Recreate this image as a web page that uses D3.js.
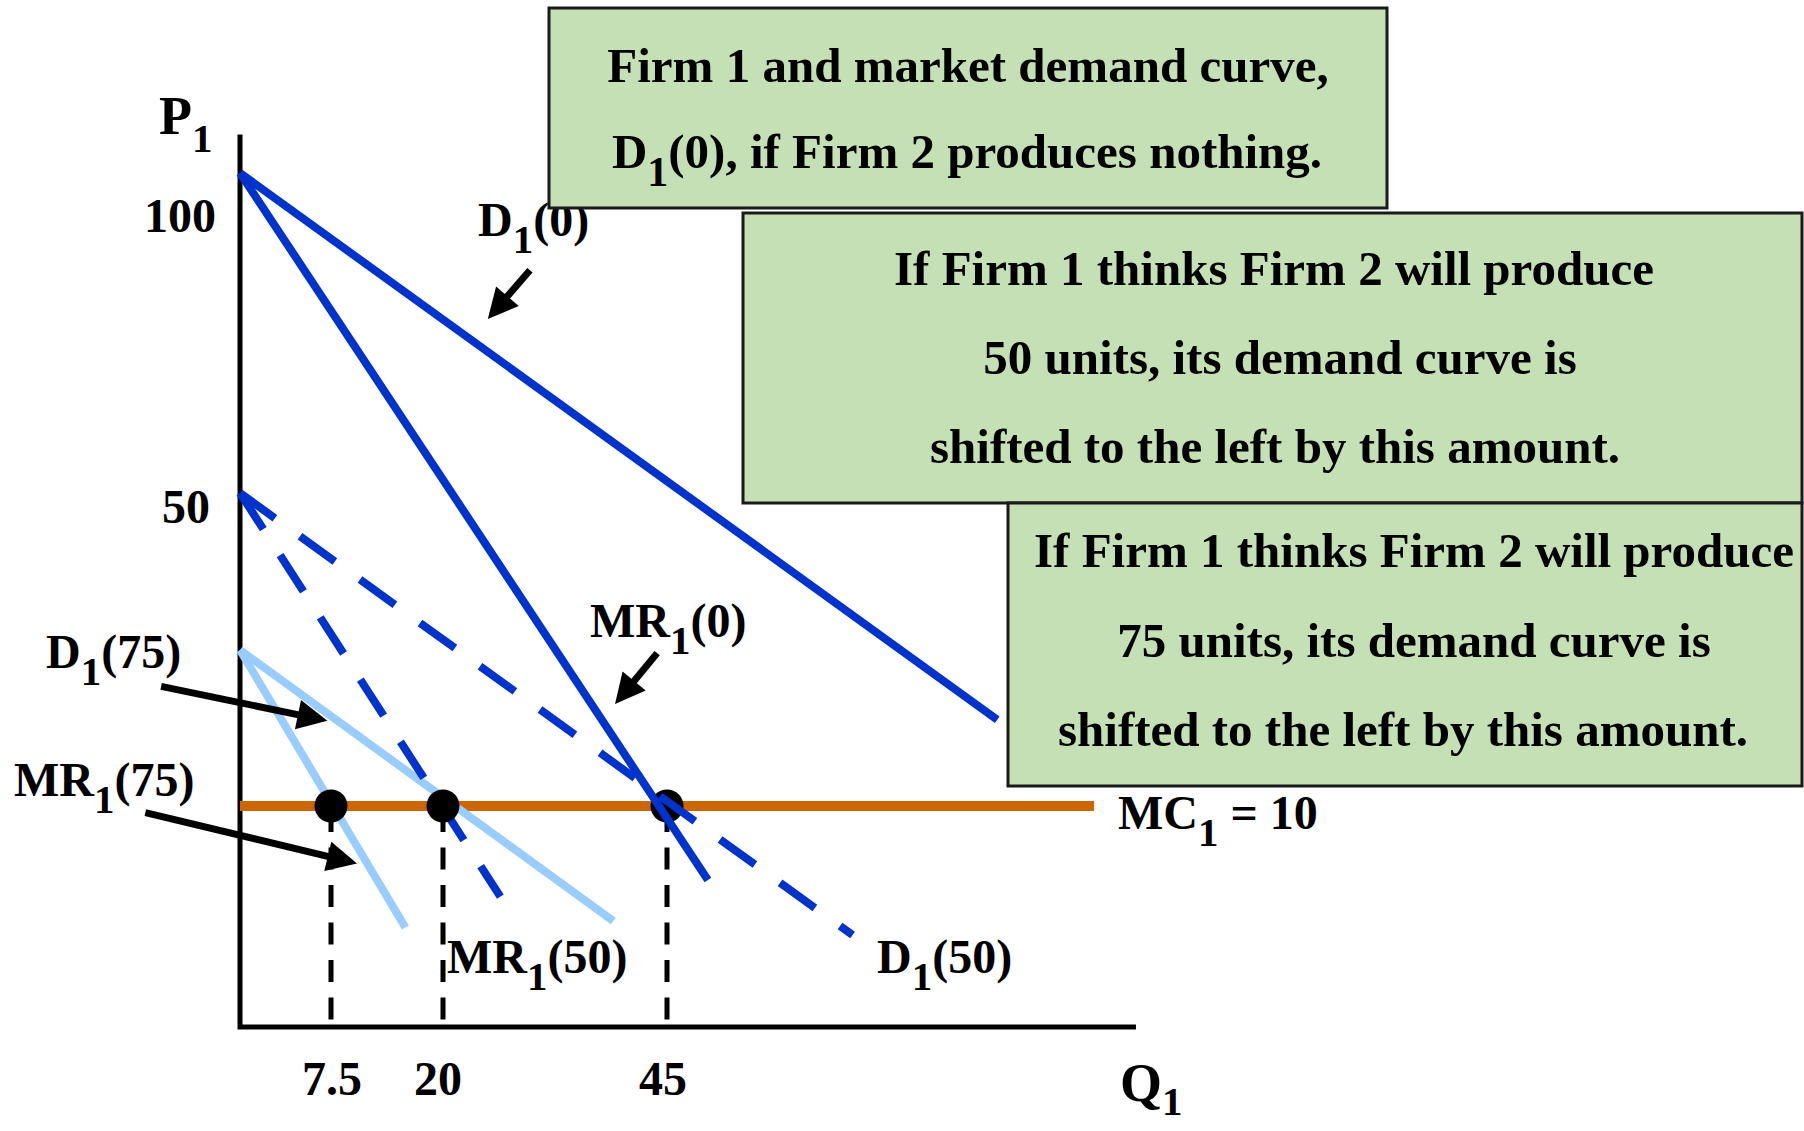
<!DOCTYPE html>
<html>
<head>
<meta charset="utf-8">
<script src="https://cdn.jsdelivr.net/npm/d3@7"></script>
<style>
  html, body { margin: 0; padding: 0; background: #ffffff; }
  svg { display: block; }
  text { font-family: "Liberation Serif", "Times New Roman", serif; font-weight: bold; fill: #000; white-space: pre; }
</style>
</head>
<body>
<svg id="chart" width="1804" height="1131"></svg>
<script>
// ---- Data -------------------------------------------------------------
// Schematic axes: anchor values along quantity and price
const qAnchors = [0, 7.5, 20, 45, 90];
const pAnchors = [0, 10, 25, 50, 100];

const priceTicks = [100, 50];
const quantityTicks = [7.5, 20, 45];
const quantityTickLabels = ["7.5", "20", "45"];

// Marginal cost and the profit-maximising quantities where MR = MC
const marginalCost = 10;
const mcQuantityRange = [0, 87.8];
const optimalQuantities = [7.5, 20, 45];

// Axis extents (quantity, price)
const axisMaxQ = 92;
const axisMaxP = 106;

// Demand and marginal revenue lines, [Q, P] end points
const demand0 = [[0, 100], [78.1, 18.3]];
const marginalRevenue0 = [[0, 100], [49.1, 6.65]];
const demand50 = [[0, 50], [63.6, 4.16]];
const marginalRevenue50 = [[0, 50], [26.4, 5.9]];
const demand75 = [[0, 25], [39.0, 4.8]];
const marginalRevenue75 = [[0, 25], [15.8, 4.5]];

// Pointer arrows, [Q, P] tail and head
const arrowTails = [[29.7, 84.8], [43.9, 24.7], [-6.5, 21.5], [-7.8, 9.7]];
const arrowHeads = [[25.0, 77.2], [39.2, 19.8], [7.2, 18.2], [10.4, 7.4]];

// Explanatory notes
const note1 = [
  ["Firm 1 and market demand curve,"],
  ["D", ["1"], "(0), if Firm 2 produces nothing."]
];
const note2 = [
  ["If Firm 1 thinks Firm 2 will produce"],
  ["50 units, its demand curve is"],
  ["shifted to the left by this amount."]
];
const note3 = [
  ["If Firm 1 thinks Firm 2 will produce"],
  ["75 units, its demand curve is"],
  ["shifted to the left by this amount."]
];

// ---- Colours ----------------------------------------------------------
const DARK_BLUE = "#0033CC";
const LIGHT_BLUE = "#99CCFF";
const ORANGE = "#CC6600";
const NOTE_FILL = "#C5E0B4";

// ---- Scales -----------------------------------------------------------
const svg = d3.select("#chart");
const x = d3.scaleLinear().domain(qAnchors).range([240, 331, 443, 667, 1116]);
const y = d3.scaleLinear().domain(pAnchors).range([1027, 806, 650, 493, 173]);
const line = d3.line().x(d => x(d[0])).y(d => y(d[1]));

// Text with subscript parts: plain strings stay on the baseline, ["1"] is lowered
function richText(parent, px, py, parts, size, opts = {}) {
  const subSize = opts.subSize || Math.round(size * 0.85);
  const shift = opts.shift || Math.round(size * 0.36);
  const t = parent.append("text")
    .attr("x", px).attr("y", py)
    .attr("font-size", size)
    .attr("text-anchor", opts.anchor || "start");
  let lowered = false;
  parts.forEach(p => {
    const sub = Array.isArray(p);
    const ts = t.append("tspan").text(sub ? p[0] : p);
    if (sub) {
      ts.attr("font-size", subSize);
      if (!lowered) { ts.attr("dy", shift); lowered = true; }
    } else if (lowered) {
      ts.attr("dy", -shift); lowered = false;
    }
  });
  return t;
}

// ---- Axes -------------------------------------------------------------
svg.append("path")
  .attr("d", d3.line()([[x(0), y(axisMaxP)], [x(0), y(0)], [x(axisMaxQ), y(0)]]))
  .attr("fill", "none").attr("stroke", "#000").attr("stroke-width", 5)
  .attr("stroke-linejoin", "miter");

// ---- Guides from each optimum down to the quantity axis ----------------
svg.append("g").selectAll("line")
  .data(optimalQuantities)
  .join("line")
  .attr("x1", d => x(d)).attr("x2", d => x(d))
  .attr("y1", y(marginalCost)).attr("y2", y(0) - 3)
  .attr("stroke", "#000").attr("stroke-width", 5)
  .attr("stroke-dasharray", "22,15.5").attr("stroke-dashoffset", -4);

// ---- Marginal cost ----------------------------------------------------
svg.append("path")
  .attr("d", line(mcQuantityRange.map(q => [q, marginalCost])))
  .attr("stroke", ORANGE).attr("stroke-width", 10).attr("fill", "none");

// ---- Curves -----------------------------------------------------------
function curve(data, color, dashed) {
  const p = svg.append("path")
    .attr("d", line(data))
    .attr("fill", "none")
    .attr("stroke", color)
    .attr("stroke-width", 8)
    .attr("stroke-linecap", "butt")
    .attr("stroke-linejoin", "miter");
  if (dashed) p.attr("stroke-dasharray", "43,31");
  return p;
}

curve(demand75, LIGHT_BLUE, false);
curve(marginalRevenue75, LIGHT_BLUE, false);
curve(marginalRevenue50, DARK_BLUE, true);

// ---- Optima on MC -----------------------------------------------------
svg.append("g").selectAll("circle")
  .data(optimalQuantities)
  .join("circle")
  .attr("cx", d => x(d)).attr("cy", y(marginalCost))
  .attr("r", 16.5).attr("fill", "#000");

curve(demand50, DARK_BLUE, true);
curve(demand0, DARK_BLUE, false);
curve(marginalRevenue0, DARK_BLUE, false);

// ---- Pointer arrows ---------------------------------------------------
const arrowG = svg.append("g");
arrowTails.forEach((tail, i) => {
  const [x1, y1] = [x(tail[0]), y(tail[1])];
  const [x2, y2] = [x(arrowHeads[i][0]), y(arrowHeads[i][1])];
  const len = Math.hypot(x2 - x1, y2 - y1);
  const ux = (x2 - x1) / len, uy = (y2 - y1) / len;
  const L = 30, W = 15;
  const bx = x2 - ux * L, by = y2 - uy * L;
  arrowG.append("line")
    .attr("x1", x1).attr("y1", y1)
    .attr("x2", bx + ux * 2).attr("y2", by + uy * 2)
    .attr("stroke", "#000").attr("stroke-width", 7);
  arrowG.append("path")
    .attr("d", `M${x2},${y2}L${bx - uy * W},${by + ux * W}L${bx + uy * W},${by - ux * W}Z`)
    .attr("fill", "#000");
});

// ---- Curve labels -----------------------------------------------------
const labels = svg.append("g");
richText(labels, 478, 236, ["D", ["1"], "(0)"], 48);
richText(labels, 590, 637, ["MR", ["1"], "(0)"], 48);
richText(labels, 46, 668, ["D", ["1"], "(75)"], 48);
richText(labels, 14, 796, ["MR", ["1"], "(75)"], 48);
richText(labels, 447, 973, ["MR", ["1"], "(50)"], 48);
richText(labels, 877, 973, ["D", ["1"], "(50)"], 48);
richText(labels, 1118, 829, ["MC", ["1"], ` = ${marginalCost}`], 48);

// ---- Tick labels ------------------------------------------------------
const priceLabelShift = [59, 30];
priceTicks.forEach((p, i) => {
  labels.append("text")
    .attr("x", x(0) - 24 - i * 6).attr("y", y(p) + priceLabelShift[i])
    .attr("font-size", 48).attr("text-anchor", "end")
    .text(p);
});
const quantityLabelNudge = [1, -5, -4];
quantityTicks.forEach((q, i) => {
  labels.append("text")
    .attr("x", x(q) + quantityLabelNudge[i]).attr("y", y(0) + 68)
    .attr("font-size", 48).attr("text-anchor", "middle")
    .text(quantityTickLabels[i]);
});

// Axis titles
richText(labels, 159, 134, ["P", ["1"]], 54, { subSize: 41, shift: 18 });
richText(labels, 1120, 1101, ["Q", ["1"]], 54, { subSize: 41, shift: 14 });

// ---- Notes ------------------------------------------------------------
function note(rect, lines, centers, baselines) {
  const g = svg.append("g");
  g.append("rect")
    .attr("x", rect[0]).attr("y", rect[1])
    .attr("width", rect[2]).attr("height", rect[3])
    .attr("fill", NOTE_FILL).attr("stroke", "#1a1a1a").attr("stroke-width", 3);
  lines.forEach((parts, i) => {
    richText(g, centers[i], baselines[i], parts, 49, { anchor: "middle", subSize: 42, shift: 18 });
  });
}
note([549, 8, 838, 200], note1, [968, 967], [82, 168]);
note([743, 213, 1059, 290], note2, [1274, 1280, 1275], [285, 374, 463]);
note([1008, 503, 794, 283], note3, [1414, 1414, 1403], [567, 657, 746]);
</script>
</body>
</html>
